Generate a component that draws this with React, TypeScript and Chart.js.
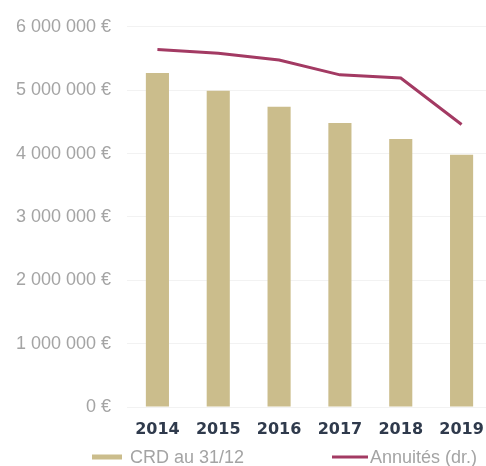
import React, { useEffect, useRef } from "react";
import { Chart, registerables } from "chart.js";

Chart.register(...registerables);

const categories = ["2014", "2015", "2016", "2017", "2018", "2019"];
const crdValues = [5270000, 4990000, 4740000, 4480000, 4230000, 3980000];
const annuitesValues = [677000, 670000, 657000, 629000, 623000, 535000];
const leftTicks = [0, 1000000, 2000000, 3000000, 4000000, 5000000, 6000000];
const seriesLabels = ["CRD au 31/12", "Annuités (dr.)"];

const BAR_COLOR = "#cbbd8c";
const LINE_COLOR = "#a33a63";
const TICK_COLOR = "#a4a4a4";
const XLABEL_COLOR = "#2f3a4c";

function fmt(v: number): string {
  return String(v).replace(/\B(?=(\d{3})+(?!\d))/g, " ") + " €";
}

const legendPlugin = {
  id: "customLegend",
  afterDraw(chart: any) {
    const ctx = chart.ctx;
    const y = 457;
    ctx.save();
    ctx.font = "18px 'Liberation Sans', Arial, sans-serif";
    ctx.textBaseline = "middle";
    ctx.fillStyle = BAR_COLOR;
    ctx.fillRect(92, y - 2.5, 30, 5);
    ctx.fillStyle = TICK_COLOR;
    ctx.fillText(chart.data.datasets[0].label, 130, y + 1);
    ctx.strokeStyle = LINE_COLOR;
    ctx.lineWidth = 3;
    ctx.beginPath();
    ctx.moveTo(332, y);
    ctx.lineTo(368, y);
    ctx.stroke();
    ctx.fillStyle = TICK_COLOR;
    ctx.fillText(chart.data.datasets[1].label, 370, y + 1);
    ctx.restore();
  },
};

export default function App() {
  const ref = useRef<HTMLCanvasElement | null>(null);
  useEffect(() => {
    document.body.style.margin = "0";
    document.body.style.overflow = "hidden";
    if (!ref.current) return;
    const chart = new Chart(ref.current, {
      type: "bar",
      data: {
        labels: categories,
        datasets: [
          {
            type: "bar",
            label: seriesLabels[0],
            data: crdValues,
            backgroundColor: BAR_COLOR,
            yAxisID: "y",
            barPercentage: 0.38,
            categoryPercentage: 1,
            order: 1,
          },
          {
            type: "line",
            label: seriesLabels[1],
            data: annuitesValues,
            borderColor: LINE_COLOR,
            borderWidth: 3,
            pointRadius: 0,
            tension: 0,
            yAxisID: "y1",
            order: 0,
          } as any,
        ],
      },
      options: {
        responsive: false,
        animation: false,
        layout: { padding: { top: 21, left: 0, right: 0, bottom: 19 } },
        plugins: {
          legend: { display: false },
          tooltip: { enabled: false },
        },
        scales: {
          x: {
            offset: true,
            grid: { display: false },
            border: { display: false },
            ticks: {
              color: XLABEL_COLOR,
              font: { family: "'DejaVu Sans', sans-serif", size: 16, weight: "bold" },
              padding: 5,
              maxRotation: 0,
            },
            afterFit: (s: any) => {
              s.height = 40;
            },
          },
          y: {
            min: 0,
            max: 6000000,
            afterBuildTicks: (s: any) => {
              s.ticks = leftTicks.map((v) => ({ value: v }));
            },
            grid: { color: "rgba(0,0,0,0.05)", drawTicks: false },
            border: { display: false },
            ticks: {
              color: TICK_COLOR,
              font: { family: "'Liberation Sans', Arial, sans-serif", size: 18 },
              padding: 16,
              callback: (v: any) => fmt(Number(v)),
            },
            afterFit: (s: any) => {
              s.width = 127;
            },
          },
          y1: {
            display: false,
            position: "right",
            min: 0,
            max: 720000,
            grid: { display: false },
          },
        },
      },
      plugins: [legendPlugin],
    });
    return () => chart.destroy();
  }, []);
  return (
    <div style={{ width: 492, height: 466, position: "relative", background: "#fff" }}>
      <canvas ref={ref} width={492} height={466} style={{ width: 492, height: 466, display: "block" }} />
    </div>
  );
}
